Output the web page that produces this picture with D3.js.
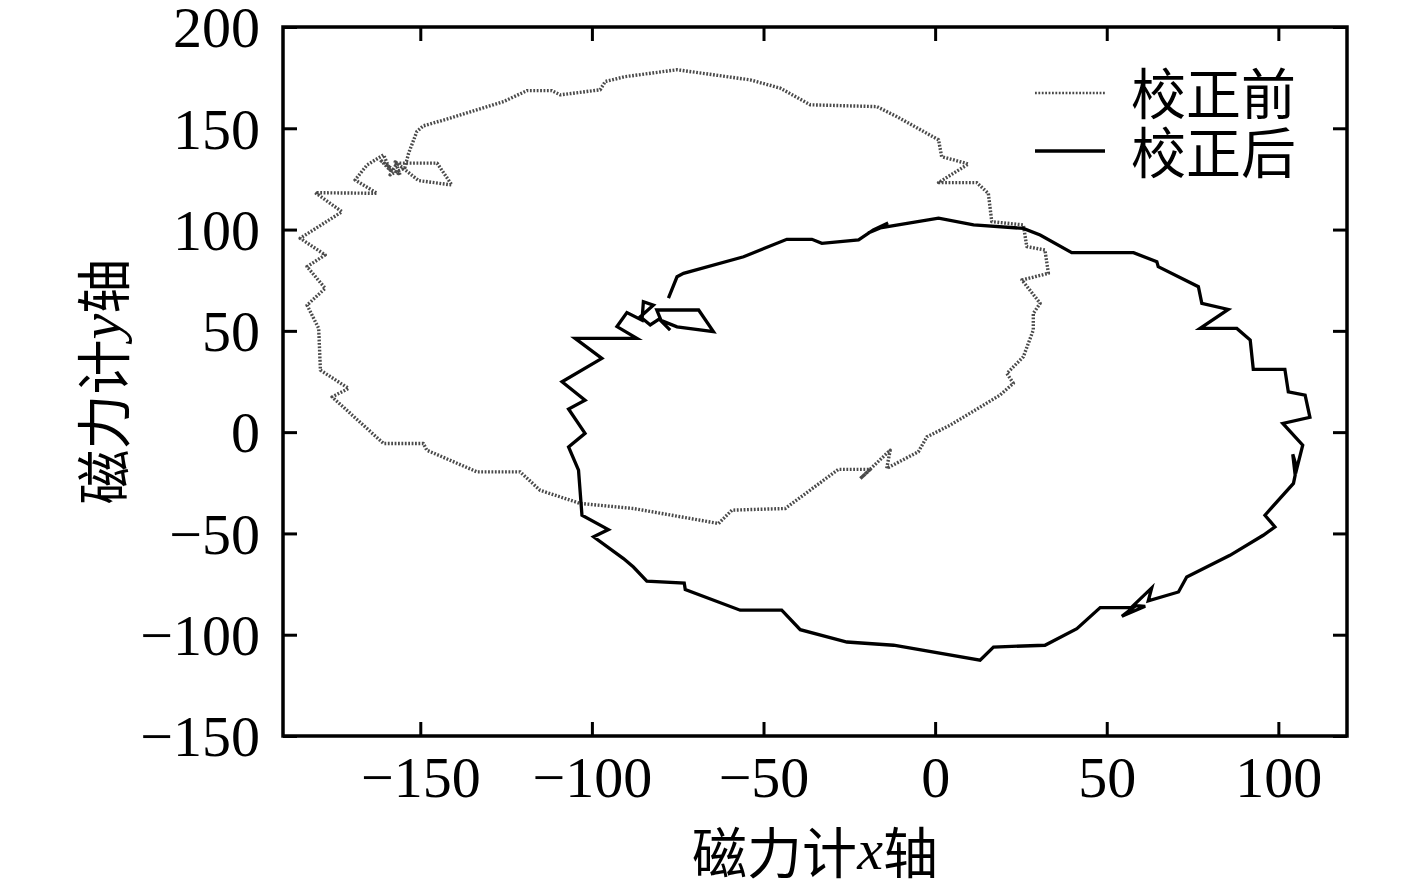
<!DOCTYPE html>
<html>
<head>
<meta charset="utf-8">
<script src="https://cdn.jsdelivr.net/npm/d3@7"></script>
<style>
  html, body { margin: 0; padding: 0; background: #fff; }
  svg { display: block; }
</style>
</head>
<body>
<svg id="chart" width="1417" height="889"></svg>
<script>
// ---- Data ----
const xTicks = [-150, -100, -50, 0, 50, 100];
const yTicks = [-150, -100, -50, 0, 50, 100, 150, 200];
const xDomain = [-190, 120];
const yDomain = [-150, 200];
const seriesNames = ["校正前", "校正后"];

// 校正前 (before calibration) – x values
const beforeX = [1.5, -2.4, -4.9, -14.1, -13.1, -21.8, -18.9, -28.2, -43.7, -59.2, -63.1, -71.4, -87.9, -103.4, -115.1,
  -120.9, -133.5, -148.1, -149.1, -160.7, -175.7, -170.9, -179.1, -179.6, -183.0, -177.7, -183.0, -177.7, -185.0,
  -172.8, -180.6, -162.6, -169.0, -165.5, -160.7, -158.8, -161.7, -155.9, -157.3, -150.5, -140.8, -145.1, -156.8,
  -158.8, -154.5, -153.4, -151.0, -149.1, -141.3, -125.7, -118.9, -111.7, -109.2, -97.6, -96.1, -90.3, -75.2, -53.9,
  -45.1, -36.4, -17.0, -11.2, 1.0, 1.9, 9.7, 1.0, 12.1, 15.5, 16.5, 25.7, 26.7, 32.0, 33.0, 25.3, 30.6, 28.6, 28.6,
  25.7, 20.9, 22.8, 18.9, 11.7, 4.4, 1.5];
// 校正前 – y values
const beforeY = [1.0, -2.3, -9.7, -17.9, -8.9, -22.9, -18.4, -18.4, -37.7, -38.5, -45.1, -42.6, -37.7, -35.2, -28.7,
  -19.6, -19.6, -8.9, -5.6, -5.6, 17.4, 21.6, 30.6, 51.2, 62.7, 71.0, 81.7, 87.5, 95.7,
  108.8, 118.2, 117.9, 124.5, 131.9, 136.9, 129.4, 134.4, 127.0, 133.4, 124.2, 122.0, 132.8, 132.8,
  127.0, 130.5, 137.7, 148.4, 151.2, 155.0, 163.2, 168.6, 168.6, 166.5, 169.0, 173.1, 175.5, 178.9, 173.9,
  169.8, 161.6, 160.7, 155.8, 144.3, 136.0, 132.4, 123.2, 123.2, 117.9, 103.9, 102.3, 91.6, 89.9, 78.4, 75.1, 63.6, 58.6, 50.4,
  37.2, 29.0, 24.1, 18.3, 10.9, 3.5, 1.0];

// 校正后 (after calibration) – x values
const afterX = [-77.7, -75.2, -73.3, -55.8, -43.2, -35.9, -33.0, -22.3, -18.0, -13.7, -19.5, -16.0, 1.0, 11.2, 25.7,
  30.6, 39.8, 57.8, 64.6, 65.0, 76.7, 77.7, 85.4, 77.2, 87.9, 91.8, 92.7, 101.9, 102.9, 107.8, 109.2, 101.3, 107.1,
  105.4, 104.2, 104.9, 104.4, 96.1, 99.0, 95.6, 85.9, 73.3, 70.9, 62.1, 63.1, 57.8, 61.2, 54.4, 57.8, 48.1, 41.3,
  32.0, 17.0, 13.1, -12.1, -25.7, -39.3, -44.7, -56.8, -72.8, -73.1, -84.0, -87.9, -90.8, -99.5, -95.2, -102.9,
  -103.9, -106.8, -102.0, -106.8, -102.0, -108.7, -97.1, -104.9, -86.9, -92.7, -89.8, -85.4, -85.0, -82.1, -85.9,
  -83.0, -80.1, -81.1, -68.9, -64.6, -75.2, -80.1, -77.2];
// 校正后 – y values
const afterY = [66.2, 76.7, 78.4, 86.6, 95.2, 95.2, 93.2, 94.9, 99.8, 103.3, 98.3, 100.8, 105.6, 102.3, 100.6,
  97.3, 88.6, 88.6, 84.1, 81.7, 71.8, 63.6, 60.6, 51.2, 51.2, 45.5, 31.0, 31.0, 19.9, 18.3, 7.3, 4.3, -6.4,
  -17.8, -10.9, -21.2, -25.3, -41.0, -46.8, -50.9, -60.8, -71.5, -78.9, -83.3, -76.9, -85.5, -86.0, -90.9, -86.5, -86.6, -97.0,
  -105.2, -106.1, -112.6, -105.2, -103.6, -97.5, -87.9, -87.9, -77.7, -74.5, -73.5, -66.6, -62.4, -51.7, -48.1, -41.0,
  -18.8, -7.3, -0.6, 11.4, 15.8, 24.9, 36.4, 46.3, 46.3, 52.1, 59.0, 55.3, 64.4, 62.7, 57.0,
  52.9, 56.2, 60.3, 60.3, 49.6, 52.0, 55.3, 50.4];

// ---- Layout ----
const svg = d3.select("#chart");
const mLeft = 283, mRight = 1347, mTop = 27, mBottom = 736;
const x = d3.scaleLinear().domain(xDomain).range([mLeft, mRight]);
const y = d3.scaleLinear().domain(yDomain).range([mBottom, mTop]);

const fmt = d => (d < 0 ? "\u2212" + Math.abs(d) : String(d));
const tickFont = "'Liberation Serif', 'Times New Roman', serif";
const cjkFont = "'Noto Sans CJK SC', 'Noto Sans CJK JP', sans-serif";

function styleAxis(g, dy) {
  g.select(".domain").remove();
  g.selectAll(".tick line").attr("stroke", "#000").attr("stroke-width", 3);
  g.selectAll(".tick text").attr("fill", "#000").attr("dy", dy)
    .style("font-family", tickFont).style("font-size", "58px");
}

svg.append("g").attr("transform", `translate(0,${mBottom})`)
  .call(d3.axisBottom(x).tickValues(xTicks).tickFormat(fmt).tickSizeInner(-14).tickSizeOuter(0).tickPadding(20))
  .call(styleAxis, "0.71em");
svg.append("g").attr("transform", `translate(0,${mTop})`)
  .call(d3.axisTop(x).tickValues(xTicks).tickFormat("").tickSizeInner(-14).tickSizeOuter(0))
  .call(styleAxis, "0");
svg.append("g").attr("transform", `translate(${mLeft},0)`)
  .call(d3.axisLeft(y).tickValues(yTicks).tickFormat(fmt).tickSizeInner(-14).tickSizeOuter(0).tickPadding(23))
  .call(styleAxis, "0.34em");
svg.append("g").attr("transform", `translate(${mRight},0)`)
  .call(d3.axisRight(y).tickValues(yTicks).tickFormat("").tickSizeInner(-14).tickSizeOuter(0))
  .call(styleAxis, "0");

// frame
svg.append("rect").attr("x", mLeft).attr("y", mTop).attr("width", mRight - mLeft).attr("height", mBottom - mTop)
  .attr("fill", "none").attr("stroke", "#000").attr("stroke-width", 3.5);

// ---- Lines ----
const line = d3.line().x(d => x(d[0])).y(d => y(d[1])).curve(d3.curveLinear);
const before = beforeX.map((v, i) => [v, beforeY[i]]);
const after = afterX.map((v, i) => [v, afterY[i]]);

svg.append("path").datum(before).attr("d", line)
  .attr("fill", "none").attr("stroke", "#4a4a4a").attr("stroke-width", 3.4)
  .attr("stroke-dasharray", "1.8,1.6").attr("stroke-linejoin", "round");
svg.append("path").datum(after).attr("d", line)
  .attr("fill", "none").attr("stroke", "#000").attr("stroke-width", 3.3)
  .attr("stroke-linejoin", "miter");

// ---- Legend ----
const lg = svg.append("g");
lg.append("line").attr("x1", 1035).attr("x2", 1105).attr("y1", 93).attr("y2", 93)
  .attr("stroke", "#4a4a4a").attr("stroke-width", 2.6).attr("stroke-dasharray", "1.8,1.6");
lg.append("line").attr("x1", 1035).attr("x2", 1105).attr("y1", 151).attr("y2", 151)
  .attr("stroke", "#000").attr("stroke-width", 3.3);
lg.append("text").attr("x", 1131).attr("y", 90).attr("dominant-baseline", "central")
  .style("font-family", cjkFont).style("font-size", "55px").text(seriesNames[0]);
lg.append("text").attr("x", 1131).attr("y", 149).attr("dominant-baseline", "central")
  .style("font-family", cjkFont).style("font-size", "55px").text(seriesNames[1]);

// ---- Axis titles ----
const xt = svg.append("text").attr("x", (mLeft + mRight) / 2).attr("y", 849)
  .attr("text-anchor", "middle").attr("dominant-baseline", "central")
  .style("font-family", cjkFont).style("font-size", "55px");
xt.append("tspan").text("磁力计");
xt.append("tspan").style("font-family", tickFont).style("font-style", "italic").style("font-size", "58px").text("x");
xt.append("tspan").text("轴");

const yt = svg.append("text").attr("transform", `translate(100,${(mTop + mBottom) / 2}) rotate(-90)`)
  .attr("text-anchor", "middle").attr("dominant-baseline", "central")
  .style("font-family", cjkFont).style("font-size", "55px");
yt.append("tspan").text("磁力计");
yt.append("tspan").style("font-family", tickFont).style("font-style", "italic").style("font-size", "58px").text("y");
yt.append("tspan").text("轴");
</script>
</body>
</html>
